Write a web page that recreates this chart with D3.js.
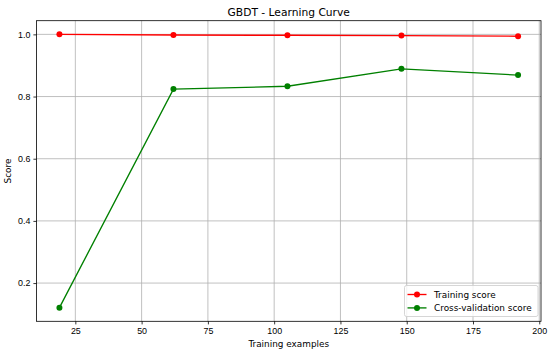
<!DOCTYPE html>
<html>
<head>
<meta charset="utf-8">
<script src="https://cdn.jsdelivr.net/npm/d3@7"></script>
<style>
  body { margin: 0; background: #fff; }
  svg { display: block; font-family: "DejaVu Sans", sans-serif; }
  .tick text { font-size: 8.9px; fill: #000; }
</style>
</head>
<body>
<div id="chart"></div>
<script>
// data
const trainSizes = [19, 62, 105, 148, 192];
const trainScores = [1.0, 0.998, 0.997, 0.996, 0.994];
const cvScores = [0.121, 0.824, 0.833, 0.889, 0.869];
const xTicks = [25, 50, 75, 100, 125, 150, 175, 200];
const yTicks = [0.2, 0.4, 0.6, 0.8, 1.0];
const seriesNames = ['Training score', 'Cross-validation score'];
const seriesColors = ['#ff0000', '#008000'];

const W = 550, H = 356;
const margin = { top: 20.7, right: 9, bottom: 34.7, left: 36.5 };
const width = W - margin.left - margin.right;
const height = H - margin.top - margin.bottom;

const svg = d3.select('#chart').append('svg')
  .attr('width', W)
  .attr('height', H);

const g = svg.append('g')
  .attr('transform', `translate(${margin.left},${margin.top})`);

// matplotlib-style 5% margins
const xMin = d3.min(trainSizes), xMax = d3.max(trainSizes);
const xPad = (xMax - xMin) * 0.05;
const allY = trainScores.concat(cvScores);
const yMin = d3.min(allY), yMax = d3.max(allY);
const yPad = (yMax - yMin) * 0.05;

const x = d3.scaleLinear().domain([xMin - xPad, xMax + xPad]).range([0, width]);
const y = d3.scaleLinear().domain([yMin - yPad, yMax + yPad]).range([height, 0]);

// grid
g.append('g')
  .selectAll('line')
  .data(xTicks)
  .enter().append('line')
  .attr('x1', d => x(d)).attr('x2', d => x(d))
  .attr('y1', 0).attr('y2', height)
  .attr('stroke', '#b0b0b0').attr('stroke-width', 0.8);

g.append('g')
  .selectAll('line')
  .data(yTicks)
  .enter().append('line')
  .attr('x1', 0).attr('x2', width)
  .attr('y1', d => y(d)).attr('y2', d => y(d))
  .attr('stroke', '#b0b0b0').attr('stroke-width', 0.8);

// axes
const xAxis = g.append('g')
  .attr('transform', `translate(0,${height})`)
  .call(d3.axisBottom(x).tickValues(xTicks).tickSize(3.1).tickPadding(3).tickFormat(d3.format('d')));
const yAxis = g.append('g')
  .call(d3.axisLeft(y).tickValues(yTicks).tickSize(3.1).tickPadding(3).tickFormat(d3.format('.1f')));
[xAxis, yAxis].forEach(a => {
  a.select('.domain').remove();
  a.selectAll('.tick line').attr('stroke', '#000').attr('stroke-width', 0.8);
});

// frame
g.append('rect')
  .attr('width', width).attr('height', height)
  .attr('fill', 'none').attr('stroke', '#000').attr('stroke-width', 0.8);

// series
const series = [trainScores, cvScores];
const line = d3.line()
  .x((d, i) => x(trainSizes[i]))
  .y(d => y(d));

series.forEach((vals, s) => {
  g.append('path')
    .datum(vals)
    .attr('d', line)
    .attr('fill', 'none')
    .attr('stroke', seriesColors[s])
    .attr('stroke-width', 1.35);
  g.selectAll(null)
    .data(vals)
    .enter().append('circle')
    .attr('cx', (d, i) => x(trainSizes[i]))
    .attr('cy', d => y(d))
    .attr('r', 3)
    .attr('fill', seriesColors[s]);
});

// title and labels
svg.append('text')
  .attr('x', margin.left + width / 2)
  .attr('y', 16)
  .attr('text-anchor', 'middle')
  .attr('font-size', 10.7)
  .text('GBDT - Learning Curve');

svg.append('text')
  .attr('x', margin.left + width / 2)
  .attr('y', 347)
  .attr('text-anchor', 'middle')
  .attr('font-size', 8.9)
  .text('Training examples');

svg.append('text')
  .attr('transform', `translate(11,${margin.top + height / 2}) rotate(-90)`)
  .attr('text-anchor', 'middle')
  .attr('font-size', 8.9)
  .text('Score');

// legend
const legend = svg.append('g').attr('transform', 'translate(404.5,285.5)');
legend.append('rect')
  .attr('width', 133.5).attr('height', 31)
  .attr('rx', 2).attr('ry', 2)
  .attr('fill', '#fff').attr('fill-opacity', 0.8)
  .attr('stroke', '#cccccc').attr('stroke-width', 0.8);

const items = legend.selectAll('.legend-item')
  .data(seriesNames)
  .enter().append('g')
  .attr('class', 'legend-item')
  .attr('transform', (d, i) => `translate(0,${9 + i * 13.4})`);

items.append('line')
  .attr('x1', 3).attr('x2', 22)
  .attr('stroke', (d, i) => seriesColors[i])
  .attr('stroke-width', 1.35);
items.append('circle')
  .attr('cx', 12.5).attr('r', 3)
  .attr('fill', (d, i) => seriesColors[i]);
items.append('text')
  .attr('x', 29.5)
  .attr('dy', '0.35em')
  .attr('font-size', 8.9)
  .text(d => d);
</script>
</body>
</html>
